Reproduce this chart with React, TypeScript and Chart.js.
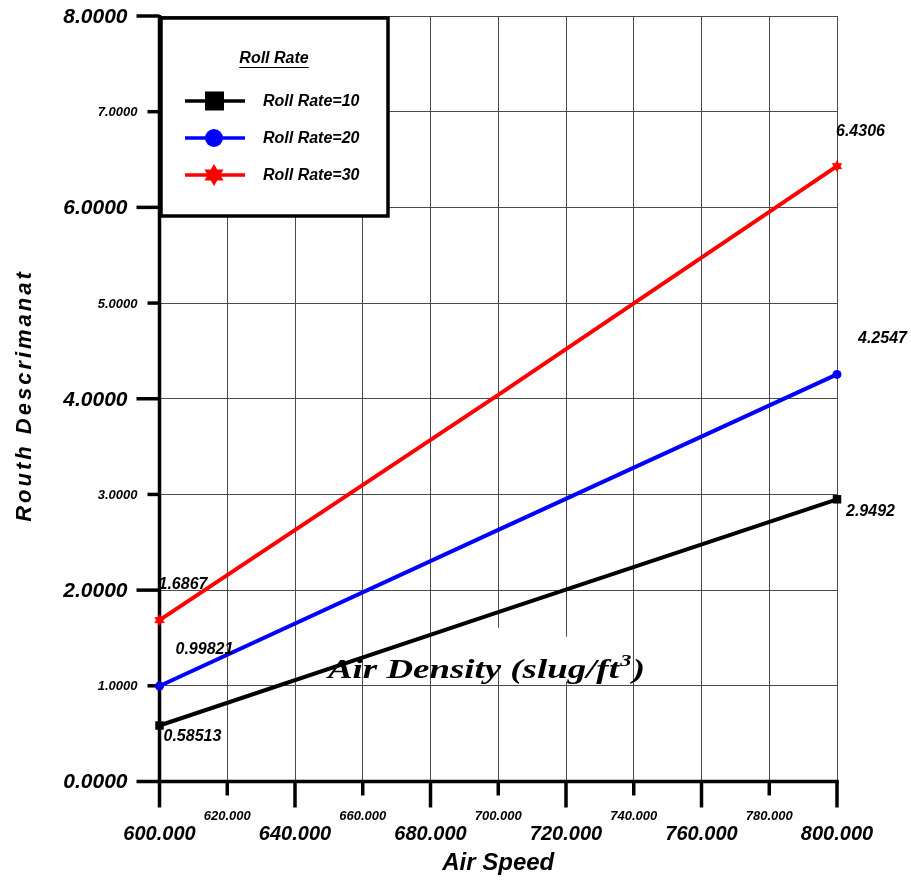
import React, { useEffect, useRef } from 'react';
import { Chart, registerables } from 'chart.js';

Chart.register(...registerables);

// ---------- data ----------
const airSpeed = [600, 700, 800];
const rollRate10 = [0.58513, 1.77, 2.9492];
const rollRate20 = [0.99821, 2.63, 4.2547];
const rollRate30 = [1.6867, 4.04, 6.4306];
const seriesNames = ['Roll Rate=10', 'Roll Rate=20', 'Roll Rate=30'];
const seriesColors = ['#000000', '#0000ff', '#ff0000'];
const endLabels10 = ['0.58513', '2.9492'];
const endLabels20 = ['0.99821', '4.2547'];
const endLabels30 = ['1.6867', '6.4306'];
const xTickValues = [600, 620, 640, 660, 680, 700, 720, 740, 760, 780, 800];
const xTickLabels = ['600.000', '620.000', '640.000', '660.000', '680.000', '700.000', '720.000', '740.000', '760.000', '780.000', '800.000'];
const yTickValues = [0, 1, 2, 3, 4, 5, 6, 7, 8];
const yTickLabels = ['0.0000', '1.0000', '2.0000', '3.0000', '4.0000', '5.0000', '6.0000', '7.0000', '8.0000'];
const xTitle = 'Air Speed';
const yTitle = 'Routh Descrimanat';
const legendTitle = 'Roll Rate';
const noteText = 'Air Density (slug/ft';
const noteSup = '3';
const noteClose = ')';

const SANS = '"Liberation Sans", Arial, sans-serif';

function drawStar(g: CanvasRenderingContext2D, cx: number, cy: number, R: number, color: string) {
  g.beginPath();
  for (let i = 0; i < 12; i++) {
    const r = i % 2 === 0 ? R : R * 0.58;
    const a = -Math.PI / 2 + (i * Math.PI) / 6;
    const px = cx + r * Math.cos(a);
    const py = cy + r * Math.sin(a);
    if (i === 0) g.moveTo(px, py);
    else g.lineTo(px, py);
  }
  g.closePath();
  g.fillStyle = color;
  g.fill();
}

function makeStar(size: number, color: string) {
  const c = document.createElement('canvas');
  c.width = size;
  c.height = size;
  const g = c.getContext('2d')!;
  drawStar(g, size / 2, size / 2, size / 2, color);
  return c;
}

const decorPlugin = {
  id: 'decor',
  beforeDatasetsDraw(chart: any) {
    const ctx: CanvasRenderingContext2D = chart.ctx;
    const xs = chart.scales.x;
    const ys = chart.scales.y;
    const ca = chart.chartArea;
    ctx.save();
    // white patch behind note text
    ctx.fillStyle = '#ffffff';
    ctx.beginPath();
    ctx.moveTo(470, 624);
    ctx.lineTo(615, 643);
    ctx.lineTo(615, 684);
    ctx.lineTo(578, 684);
    ctx.lineTo(470, 662);
    ctx.closePath();
    ctx.fill();

    // note text
    ctx.fillStyle = '#000';
    ctx.textBaseline = 'alphabetic';
    ctx.textAlign = 'left';
    const mainFont = 'bold italic 28px "Liberation Serif", "DejaVu Serif", serif';
    const supFont = 'bold italic 17px "Liberation Serif", "DejaVu Serif", serif';
    ctx.font = mainFont;
    const w1 = ctx.measureText(noteText).width;
    const w3 = ctx.measureText(noteClose).width;
    ctx.font = supFont;
    const w2 = ctx.measureText(noteSup).width;
    const total = w1 + w2 + w3 + 2;
    const sx = 317 / total;
    ctx.save();
    ctx.translate(328, 678);
    ctx.scale(sx, 1);
    ctx.font = mainFont;
    ctx.fillText(noteText, 0, 0);
    ctx.font = supFont;
    ctx.fillText(noteSup, w1 + 1, -12);
    ctx.font = mainFont;
    ctx.fillText(noteClose, w1 + w2 + 2, 0);
    ctx.restore();

    // axes lines
    ctx.strokeStyle = '#000';
    ctx.lineWidth = 3.5;
    ctx.lineCap = 'butt';
    ctx.beginPath();
    ctx.moveTo(ca.left, ca.top - 1);
    ctx.lineTo(ca.left, ca.bottom + 1.75);
    ctx.moveTo(ca.left - 1.75, ca.bottom);
    ctx.lineTo(ca.right + 1.75, ca.bottom);
    ctx.stroke();

    // y ticks
    yTickValues.forEach((v, i) => {
      const py = ys.getPixelForValue(v);
      const major = i % 2 === 0;
      ctx.beginPath();
      ctx.moveTo(ca.left - (major ? 23 : 12), py);
      ctx.lineTo(ca.left, py);
      ctx.stroke();
      ctx.fillStyle = '#000';
      ctx.textAlign = 'right';
      ctx.textBaseline = 'middle';
      ctx.font = major ? `bold italic 21px ${SANS}` : `bold italic 13px ${SANS}`;
      ctx.fillText(yTickLabels[i], major ? ca.left - 32 : ca.left - 22, py + 1);
    });
    // x ticks
    xTickValues.forEach((v, i) => {
      const px = xs.getPixelForValue(v);
      const major = i % 2 === 0;
      ctx.beginPath();
      ctx.moveTo(px, ca.bottom);
      ctx.lineTo(px, ca.bottom + (major ? 26 : 14));
      ctx.stroke();
      ctx.fillStyle = '#000';
      ctx.textAlign = 'center';
      ctx.textBaseline = 'middle';
      ctx.font = major ? `bold italic 20px ${SANS}` : `bold italic 13px ${SANS}`;
      ctx.fillText(xTickLabels[i], px, major ? ca.bottom + 53 : ca.bottom + 35);
    });

    // axis titles
    ctx.font = `bold italic 24px ${SANS}`;
    ctx.textAlign = 'center';
    ctx.textBaseline = 'middle';
    ctx.fillText(xTitle, (ca.left + ca.right) / 2, 863);
    ctx.save();
    ctx.translate(25, 397);
    ctx.rotate(-Math.PI / 2);
    ctx.font = `bold italic 22px ${SANS}`;
    (ctx as any).letterSpacing = '3px';
    ctx.fillText(yTitle, 1.5, 0);
    ctx.restore();
    ctx.restore();
  },
  afterDraw(chart: any) {
    const ctx: CanvasRenderingContext2D = chart.ctx;
    const xs = chart.scales.x;
    const ys = chart.scales.y;
    ctx.save();
    // data labels
    ctx.fillStyle = '#000';
    ctx.font = `bold italic 16px ${SANS}`;
    ctx.textAlign = 'left';
    ctx.textBaseline = 'middle';
    const series = [rollRate10, rollRate20, rollRate30];
    const labels = [endLabels10, endLabels20, endLabels30];
    const offsets = [
      [[4, 11], [9, 12]],
      [[16, -36], [21, -36]],
      [[-1, -36], [-1, -35]],
    ];
    series.forEach((s, k) => {
      [0, s.length - 1].forEach((idx, j) => {
        const px = xs.getPixelForValue(airSpeed[idx]);
        const py = ys.getPixelForValue(s[idx]);
        ctx.fillText(labels[k][j], px + offsets[k][j][0], py + offsets[k][j][1]);
      });
    });

    // legend box
    ctx.fillStyle = '#fff';
    ctx.fillRect(161, 18, 227, 198);
    ctx.strokeStyle = '#000';
    ctx.lineWidth = 3.5;
    ctx.strokeRect(161, 18, 227, 198);
    ctx.fillStyle = '#000';
    ctx.font = `bold italic 16px ${SANS}`;
    ctx.textAlign = 'center';
    ctx.fillText(legendTitle, 274, 59);
    const tw = ctx.measureText(legendTitle).width;
    ctx.lineWidth = 1.2;
    ctx.beginPath();
    ctx.moveTo(274 - tw / 2, 67.5);
    ctx.lineTo(274 + tw / 2, 67.5);
    ctx.stroke();
    const rows = [101, 138, 175];
    seriesNames.forEach((name, k) => {
      const y = rows[k];
      ctx.strokeStyle = seriesColors[k];
      ctx.lineWidth = 3.5;
      ctx.beginPath();
      ctx.moveTo(185, y);
      ctx.lineTo(245, y);
      ctx.stroke();
      ctx.fillStyle = seriesColors[k];
      if (k === 0) {
        ctx.fillRect(205, y - 9.5, 19, 19);
      } else if (k === 1) {
        ctx.beginPath();
        ctx.arc(214, y, 9, 0, Math.PI * 2);
        ctx.fill();
      } else {
        drawStar(ctx, 214, y, 11, seriesColors[k]);
      }
      ctx.fillStyle = '#000';
      ctx.textAlign = 'left';
      ctx.font = `bold italic 16px ${SANS}`;
      ctx.fillText(name, 263, y + 1);
    });
    ctx.restore();
  },
};

export default function App() {
  const ref = useRef<HTMLCanvasElement>(null);
  useEffect(() => {
    const star = makeStar(12, '#ff0000');
    const mk = (data: number[], k: number, style: any, radius: number) => ({
      label: seriesNames[k],
      data: airSpeed.map((x, i) => ({ x, y: data[i] })),
      borderColor: seriesColors[k],
      backgroundColor: seriesColors[k],
      borderWidth: 4,
      pointStyle: style,
      pointRadius: (c: any) => (c.dataIndex === 0 || c.dataIndex === airSpeed.length - 1 ? radius : 0),
      pointHoverRadius: 0,
      pointBorderWidth: 0,
      tension: 0,
      clip: false as any,
    });
    const chart = new Chart(ref.current!, {
      type: 'line',
      data: {
        datasets: [
          mk(rollRate10, 0, 'rect', 6),
          mk(rollRate20, 1, 'circle', 4.5),
          mk(rollRate30, 2, star, 6),
        ],
      },
      options: {
        responsive: true,
        maintainAspectRatio: false,
        animation: false,
        events: [],
        layout: { padding: { left: 159.5, right: 74, top: 16, bottom: 100.5 } },
        plugins: { legend: { display: false }, tooltip: { enabled: false } },
        scales: {
          x: {
            type: 'linear',
            min: 600,
            max: 800,
            ticks: { display: false, stepSize: 20 },
            grid: { color: '#4a4a4a', lineWidth: 1, drawTicks: false },
            border: { display: false },
          },
          y: {
            type: 'linear',
            min: 0,
            max: 8,
            ticks: { display: false, stepSize: 1 },
            grid: { color: '#4a4a4a', lineWidth: 1, drawTicks: false },
            border: { display: false },
          },
        },
      },
      plugins: [decorPlugin],
    });
    return () => chart.destroy();
  }, []);
  return (
    <div style={{ position: 'fixed', left: 0, top: 0, width: 911, height: 882, background: '#fff' }}>
      <canvas ref={ref} />
    </div>
  );
}
